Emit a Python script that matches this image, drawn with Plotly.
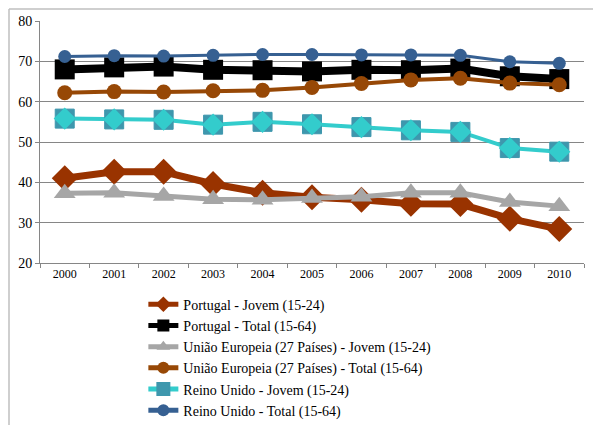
import plotly.graph_objects as go

years = ["2000", "2001", "2002", "2003", "2004", "2005", "2006", "2007", "2008", "2009", "2010"]

pt_jovem = [41.0, 42.6, 42.6, 39.6, 37.4, 36.3, 35.7, 34.7, 34.6, 31.0, 28.4]
pt_total = [68.0, 68.5, 68.7, 67.9, 67.8, 67.5, 67.9, 67.8, 68.2, 66.3, 65.6]
eu_jovem = [37.3, 37.4, 36.6, 35.8, 35.7, 36.1, 36.4, 37.4, 37.4, 35.1, 34.1]
eu_total = [62.2, 62.5, 62.4, 62.7, 62.8, 63.5, 64.5, 65.4, 65.8, 64.6, 64.2]
uk_jovem = [55.8, 55.6, 55.5, 54.3, 55.0, 54.4, 53.7, 52.9, 52.5, 48.5, 47.6]
uk_total = [71.2, 71.4, 71.3, 71.5, 71.7, 71.7, 71.6, 71.6, 71.5, 69.9, 69.5]

names = [
    "Portugal - Jovem (15-24)",
    "Portugal - Total (15-64)",
    "União Europeia (27 Países) - Jovem (15-24)",
    "União Europeia (27 Países) - Total (15-64)",
    "Reino Unido - Jovem (15-24)",
    "Reino Unido - Total (15-64)",
]

FONT = "Liberation Serif"

fig = go.Figure()

specs = [
    (pt_jovem, names[0], dict(color="#993300", width=7), dict(symbol="diamond", size=20, color="#993300")),
    (pt_total, names[1], dict(color="#000000", width=8), dict(symbol="square", size=20, color="#000000")),
    (eu_jovem, names[2], dict(color="#A6A6A6", width=5), dict(symbol="triangle-up", size=19, color="#A6A6A6")),
    (eu_total, names[3], dict(color="#974806", width=4), dict(symbol="circle", size=15, color="#974806")),
    (uk_jovem, names[4], dict(color="#33CCCC", width=4), dict(symbol="square", size=19, color="#3E97AD",
                                                               line=dict(color="#3E97AD", width=1))),
    (uk_total, names[5], dict(color="#366092", width=3), dict(symbol="circle", size=13, color="#366092")),
]

for i, (vals, name, line, marker) in enumerate(specs):
    fig.add_trace(go.Scatter(
        x=years, y=vals, name=name, mode="lines+markers",
        line=line, marker=marker,
    ))
    if i == 4:
        fig.add_trace(go.Scatter(
            x=years, y=vals, mode="markers", showlegend=False,
            marker=dict(symbol="diamond", size=17, color="#33CCCC"), hoverinfo="skip",
        ))

fig.update_layout(
    width=593, height=425,
    margin=dict(l=40, r=9, t=21, b=162, autoexpand=False),
    paper_bgcolor="white", plot_bgcolor="white",
    font=dict(family=FONT, color="#000000"),
    showlegend=True,
    legend=dict(
        x=0.19, xanchor="left", y=-0.106, yanchor="top",
        font=dict(family=FONT, size=14),
        itemsizing="constant", bgcolor="rgba(0,0,0,0)",
    ),
    xaxis=dict(
        type="category", range=[-0.5, 10.5],
        showgrid=False, showline=True, linecolor="#868686", linewidth=1,
        ticks="outside", ticklen=4, tickcolor="#868686", tickson="boundaries",
        tickfont=dict(family=FONT, size=12), fixedrange=True,
    ),
    yaxis=dict(
        range=[20, 80], dtick=10,
        showgrid=True, gridcolor="#868686", gridwidth=1,
        showline=True, linecolor="#868686", linewidth=1,
        ticks="outside", ticklen=4, tickcolor="#868686",
        tickfont=dict(family=FONT, size=14), zeroline=False, fixedrange=True,
    ),
    shapes=[
        dict(type="line", xref="paper", yref="paper",
             x0=-31 / 544, x1=1.02, y0=(425 - 162 - 9) / 242, y1=(425 - 162 - 9) / 242,
             line=dict(color="#BFBFBF", width=1.5)),
        dict(type="line", xref="paper", yref="paper",
             x0=-31 / 544, x1=-31 / 544, y0=-162 / 242, y1=(425 - 162 - 9) / 242,
             line=dict(color="#BFBFBF", width=1.5)),
    ],
)

fig.write_html("out.html")
